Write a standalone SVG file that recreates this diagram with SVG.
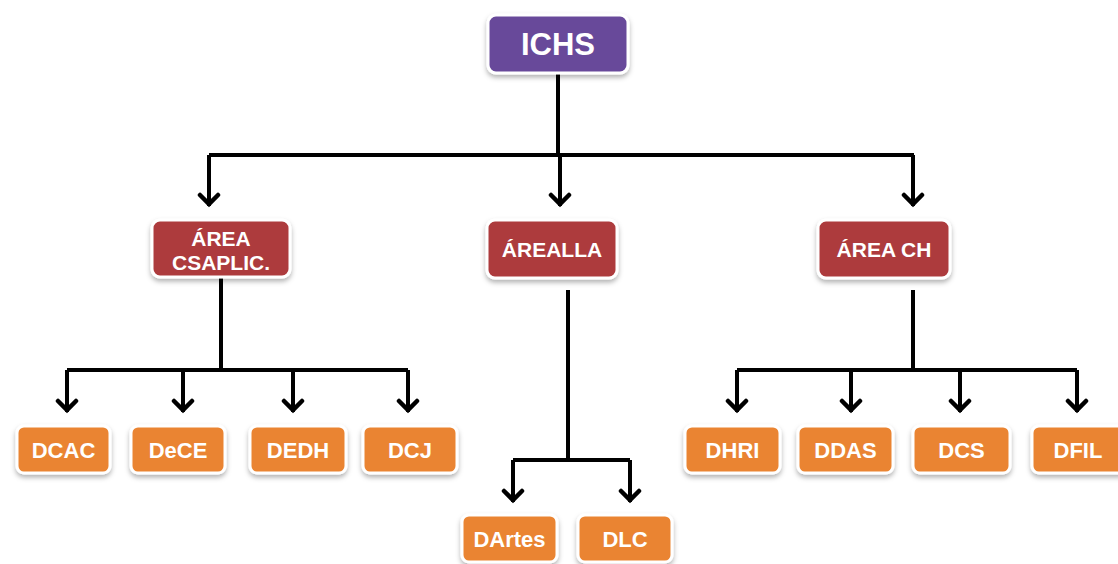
<svg xmlns="http://www.w3.org/2000/svg" width="1118" height="564" viewBox="0 0 1118 564">
<defs>
<filter id="sh" x="-20%" y="-20%" width="140%" height="160%">
<feDropShadow dx="0" dy="3" stdDeviation="2.5" flood-color="#000" flood-opacity="0.3"/>
</filter>
<marker id="ah" viewBox="-14 -12 16 24" refX="0" refY="0" markerWidth="16" markerHeight="24" markerUnits="userSpaceOnUse" orient="auto">
<path d="M-11,-9 L-2,0 L-11,9" fill="none" stroke="#000" stroke-width="4.5" stroke-linecap="round" stroke-linejoin="miter"/>
</marker>
</defs>
<style>
.bx{stroke:#fff;stroke-width:3;filter:url(#sh)}
.p{fill:#684a9a}
.r{fill:#ad3a3c}
.o{fill:#ea8430}
text{font-family:"Liberation Sans",Arial,sans-serif;fill:#fff;text-anchor:middle;font-weight:bold}
.t1{font-size:31px}
.t2{font-size:21px}
.t3{font-size:22px}
.c{fill:none;stroke:#000;stroke-width:4}
.ca{fill:none;stroke:#000;stroke-width:4;marker-end:url(#ah)}
</style>
<rect width="1118" height="564" fill="#fff"/>
<g id="connectors">
<path class="c" d="M558,73 V155"/>
<path class="c" d="M209,155 H914"/>
<path class="ca" d="M209,155 V206"/>
<path class="ca" d="M560,155 V206"/>
<path class="ca" d="M913,155 V206"/>
<path class="c" d="M221,278 V370"/>
<path class="c" d="M67,370 H408"/>
<path class="ca" d="M67,370 V412"/>
<path class="ca" d="M183,370 V412"/>
<path class="ca" d="M293,370 V412"/>
<path class="ca" d="M408,370 V412"/>
<path class="c" d="M568,290 V460"/>
<path class="c" d="M513,460 H630"/>
<path class="ca" d="M513,460 V502"/>
<path class="ca" d="M630,460 V502"/>
<path class="c" d="M913,290 V370"/>
<path class="c" d="M737,370 H1077"/>
<path class="ca" d="M737,370 V412"/>
<path class="ca" d="M851,370 V412"/>
<path class="ca" d="M960,370 V412"/>
<path class="ca" d="M1077,370 V412"/>
</g>
<g id="ICHS"><rect class="bx p" x="488" y="15" width="140" height="58" rx="8"/><text class="t1" x="558" y="55">ICHS</text></g>
<g id="AREA_CSAPLIC"><rect class="bx r" x="152" y="220" width="138" height="57" rx="8"/><text class="t2" x="221" y="246">ÁREA</text><text class="t2" x="221" y="270">CSAPLIC.</text></g>
<g id="AREALLA"><rect class="bx r" x="487" y="220" width="130" height="58" rx="8"/><text class="t2" x="552" y="257">ÁREALLA</text></g>
<g id="AREACH"><rect class="bx r" x="818" y="220" width="132" height="58" rx="8"/><text class="t2" x="884" y="257">ÁREA CH</text></g>
<g id="DCAC"><rect class="bx o" x="17" y="426" width="93" height="47" rx="7"/><text class="t3" x="63.5" y="458">DCAC</text></g>
<g id="DeCE"><rect class="bx o" x="131" y="426" width="94" height="47" rx="7"/><text class="t3" x="178" y="458">DeCE</text></g>
<g id="DEDH"><rect class="bx o" x="250" y="426" width="96" height="47" rx="7"/><text class="t3" x="298" y="458">DEDH</text></g>
<g id="DCJ"><rect class="bx o" x="363" y="426" width="94" height="47" rx="7"/><text class="t3" x="410" y="458">DCJ</text></g>
<g id="DArtes"><rect class="bx o" x="462" y="515" width="95" height="47" rx="7"/><text class="t3" x="509.5" y="547">DArtes</text></g>
<g id="DLC"><rect class="bx o" x="578" y="515" width="94" height="47" rx="7"/><text class="t3" x="625" y="547">DLC</text></g>
<g id="DHRI"><rect class="bx o" x="685" y="426" width="95" height="47" rx="7"/><text class="t3" x="732.5" y="458">DHRI</text></g>
<g id="DDAS"><rect class="bx o" x="798" y="426" width="95" height="47" rx="7"/><text class="t3" x="845.5" y="458">DDAS</text></g>
<g id="DCS"><rect class="bx o" x="913" y="426" width="97" height="47" rx="7"/><text class="t3" x="961.5" y="458">DCS</text></g>
<g id="DFIL"><rect class="bx o" x="1032" y="426" width="96" height="47" rx="7"/><text class="t3" x="1078" y="458">DFIL</text></g>
</svg>
